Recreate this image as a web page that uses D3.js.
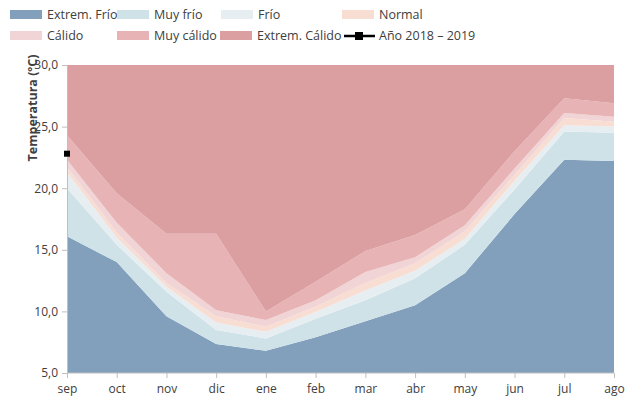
<!DOCTYPE html>
<html>
<head>
<meta charset="utf-8">
<script src="https://cdn.jsdelivr.net/npm/d3@7"></script>
<style>
  body { margin: 0; background: #fff; }
  text { font-family: "Open Sans", "Noto Sans", sans-serif; fill: #404040; }
</style>
</head>
<body>
<div id="chart"></div>
<script>
// ---- data (upper limit of each band, ºC) ----
var months = ["sep", "oct", "nov", "dic", "ene", "feb", "mar", "abr", "may", "jun", "jul", "ago"];
var extremFrio = [16.1, 14.0, 9.6, 7.35, 6.8, 7.9, 9.2, 10.5, 13.1, 17.9, 22.3, 22.2];
var muyFrio    = [20.0, 15.4, 11.6, 8.5, 7.8, 9.4, 10.9, 12.7, 15.4, 19.9, 24.6, 24.5];
var frio       = [21.3, 16.0, 12.0, 9.1, 8.35, 9.95, 11.7, 13.3, 15.9, 20.6, 25.1, 25.0];
var normal     = [21.7, 16.4, 12.3, 9.6, 8.75, 10.4, 12.3, 13.9, 16.5, 21.1, 25.7, 25.4];
var calido     = [22.3, 17.2, 13.1, 10.1, 9.3, 10.9, 13.2, 14.4, 17.0, 21.6, 26.1, 25.8];
var muyCalido  = [24.3, 19.6, 16.3, 16.3, 10.0, 12.4, 14.9, 16.2, 18.3, 23.0, 27.3, 26.9];
var extremCalido = [30, 30, 30, 30, 30, 30, 30, 30, 30, 30, 30, 30];
var anio = [22.8, null, null, null, null, null, null, null, null, null, null, null];
var yTicks = [5, 10, 15, 20, 25, 30];

var bands = [
  { name: "Extrem. Frío", values: extremFrio, color: "#82a0bc" },
  { name: "Muy frío", values: muyFrio, color: "#cfe2e8" },
  { name: "Frío", values: frio, color: "#e7eef1" },
  { name: "Normal", values: normal, color: "#f8ddd3" },
  { name: "Cálido", values: calido, color: "#f1d4d5" },
  { name: "Muy cálido", values: muyCalido, color: "#e7b3b5" },
  { name: "Extrem. Cálido", values: extremCalido, color: "#dc9fa1" }
];

var W = 635, H = 400;
var svg = d3.select("#chart").append("svg").attr("width", W).attr("height", H);

var x = d3.scalePoint().domain(months).range([67, 614]);
var y = d3.scaleLinear().domain([5, 30]).range([373, 65]);

// bands
bands.forEach(function (b, k) {
  var lower = k === 0 ? null : bands[k - 1].values;
  var area = d3.area()
    .x(function (d, i) { return x(months[i]); })
    .y0(function (d, i) { return lower ? y(lower[i]) : y(5); })
    .y1(function (d) { return y(d); });
  svg.append("path")
    .datum(b.values)
    .attr("d", area)
    .attr("fill", b.color);
});

// axes
var fmt = function (d) { return d3.format(".1f")(d).replace(".", ","); };
var yAxis = svg.append("g")
  .attr("transform", "translate(67,0)")
  .call(d3.axisLeft(y).tickValues(yTicks).tickFormat(fmt).tickSize(5).tickPadding(4));
var xAxis = svg.append("g")
  .attr("transform", "translate(0,373)")
  .call(d3.axisBottom(x).tickSize(5).tickPadding(6));
[xAxis, yAxis].forEach(function (g) {
  g.selectAll("path, line").attr("stroke", "#bfbfbf");
  g.selectAll("text").style("font-size", "12px").attr("fill", "#404040");
});
xAxis.select(".domain").remove();
svg.append("line").attr("x1", 67).attr("x2", 614).attr("y1", 373).attr("y2", 373)
  .attr("stroke", "#bfbfbf");

// y title
svg.append("text")
  .attr("transform", "translate(37,108) rotate(-90)")
  .attr("text-anchor", "middle")
  .style("font-size", "12.5px")
  .style("font-weight", "bold")
  .text("Temperatura (ºC)");

// year line
var line = d3.line()
  .defined(function (d) { return d != null; })
  .x(function (d, i) { return x(months[i]); })
  .y(function (d) { return y(d); });
svg.append("path").datum(anio).attr("d", line)
  .attr("fill", "none").attr("stroke", "#000").attr("stroke-width", 2.5);
svg.selectAll(".pt")
  .data(anio.map(function (v, i) { return { v: v, m: months[i] }; }).filter(function (d) { return d.v != null; }))
  .join("rect")
  .attr("x", function (d) { return x(d.m) - 3; })
  .attr("y", function (d) { return y(d.v) - 3; })
  .attr("width", 6).attr("height", 6)
  .attr("fill", "#000");

// legend
var legendItems = [
  { i: 0, x: 10, y: 15 }, { i: 1, x: 117, y: 15 }, { i: 2, x: 221, y: 15 }, { i: 3, x: 342, y: 15 },
  { i: 4, x: 10, y: 36 }, { i: 5, x: 117, y: 36 }, { i: 6, x: 220, y: 36 }
];
legendItems.forEach(function (it) {
  var b = bands[it.i];
  svg.append("rect").attr("x", it.x).attr("y", it.y - 5).attr("width", 32).attr("height", 9)
    .attr("fill", b.color);
  svg.append("text").attr("x", it.x + 37).attr("y", it.y + 4)
    .style("font-size", "12.5px").text(b.name);
});
svg.append("line").attr("x1", 344).attr("x2", 375).attr("y1", 36).attr("y2", 36)
  .attr("stroke", "#000").attr("stroke-width", 2.5);
svg.append("rect").attr("x", 355).attr("y", 32).attr("width", 8).attr("height", 8).attr("fill", "#000");
svg.append("text").attr("x", 379).attr("y", 40).style("font-size", "12.5px").text("Año 2018 – 2019");
</script>
</body>
</html>
